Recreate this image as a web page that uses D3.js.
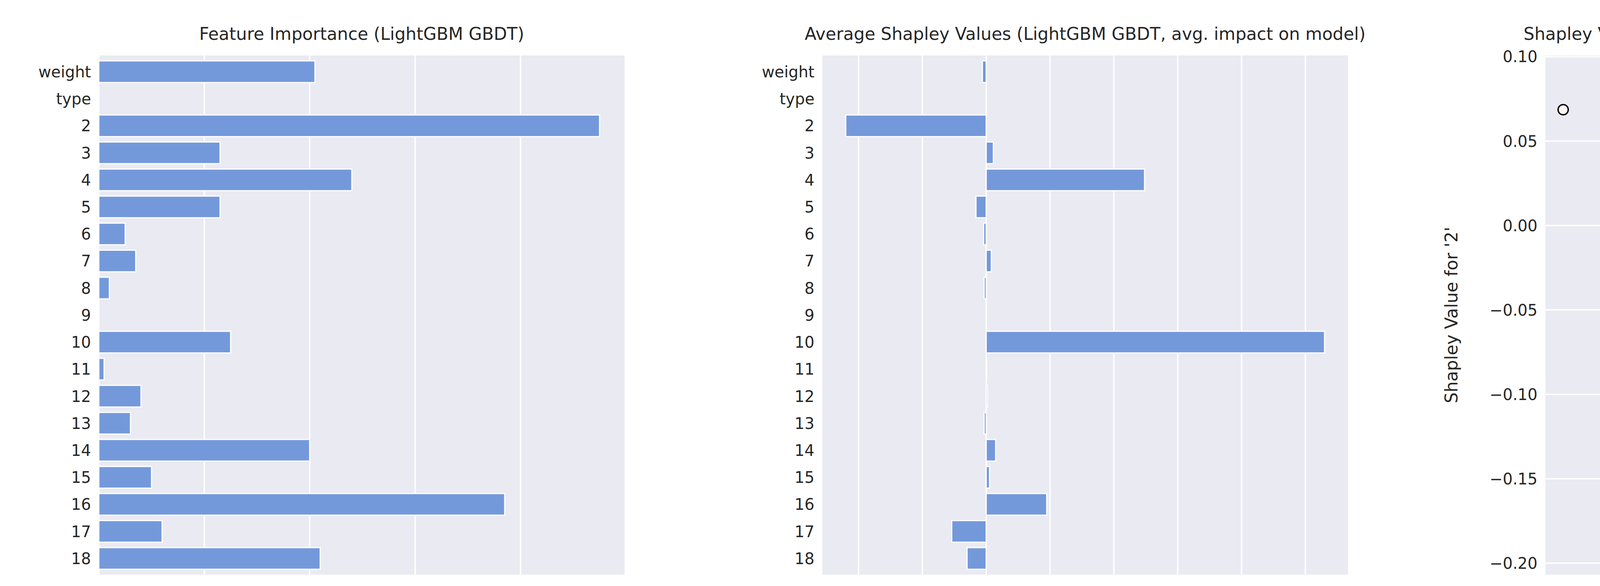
<!DOCTYPE html>
<html><head><meta charset="utf-8">
<script src="https://cdn.jsdelivr.net/npm/d3@7"></script>
<style>body{margin:0;background:#fff}text{font-family:"DejaVu Sans",sans-serif;fill:#262626}</style>
</head><body><svg id="c" width="5400" height="1500"></svg>
<script>
const features=["weight","type","2","3","4","5","6","7","8","9","10","11","12","13","14","15","16","17","18"];
const importance=[41,0,95,23,48,23,5,7,2,0,25,1,8,6,40,10,77,12,42];
const shapMeans=[-0.0015,0,-0.055,0.0028,0.062,-0.004,-0.001,0.002,-0.0008,0,0.1325,0.0002,0.0005,-0.0008,0.0037,0.0013,0.0237,-0.0135,-0.0075];
const scatterX=[-3.65,-2.6,-2.25,-2.1,-1.99,-1.67,-1.535,-1.47,-1.41,-0.467,-0.467,-0.467,-0.467,-0.17,0.33,-0.757,-0.467,-0.457,-0.425,-0.21,-0.05,-0.02,0.027,0.617,0.655,0.72,0.86,0.89,0.94,0.98,1.04,1.08,1.12,1.17,1.2,0.79,0.78,0.78,0.665,0.78];
const scatterY=[0.0686,0.0847,0.078,0.078,0.078,0.078,0.0875,0.078,0.078,-0.0154,-0.0174,-0.0212,-0.050,-0.050,-0.0171,-0.0708,-0.0676,-0.0708,-0.0676,-0.0676,-0.0676,-0.0708,-0.0676,-0.0565,-0.0643,-0.0756,-0.102,-0.102,-0.102,-0.102,-0.102,-0.102,-0.102,-0.102,-0.102,-0.109,-0.114,-0.112,-0.139,-0.194];
const scatterC=[-2.85,-1.8,-2.2,-2.2,-2.3,-2.1,-1.2,-2.2,-2.3,0.3,0.1,0.4,1.9,-0.4,0.4,-0.8,0.2,-0.5,-0.3,-0.6,-0.8,-1.2,-0.5,0.4,0.3,0.2,0.5,0.3,0.4,0.4,0.4,0.4,0.4,0.4,0.4,0.3,0.5,0.2,0.2,0.1];
const impTicks=[0,20,40,60,80];
const shapTicks=[-0.05,-0.025,0,0.025,0.05,0.075,0.1,0.125];
const scX=[-3,-2,-1,0,1], scY=[0.10,0.05,0.00,-0.05,-0.10,-0.15,-0.20], cbTicks=[-2,-1,0,1,2];

const svg=d3.select("#c");
const BG="#eaeaf2", BAR="#7499db", FS=40;
const T0=142,B0=1471;
function frame(x0,x1){svg.append("rect").attr("x",x0).attr("y",T0).attr("width",x1-x0).attr("height",B0-T0).attr("fill",BG);}
function title(t,cx){svg.append("text").attr("x",cx).attr("y",102).attr("text-anchor","middle").attr("font-size",44).text(t);}
const fmtMinus=s=>s.replace("-","\u2212");

function barPanel(x0,x1,vals,dom,ticks,fmt,ttl,xl){
  frame(x0,x1);
  const x=d3.scaleLinear().domain(dom).range([x0,x1]);
  const y=d3.scaleBand().domain(features).range([T0,B0]).padding(0.2);
  const g=svg.append("g");
  ticks.forEach(t=>{g.append("line").attr("x1",x(t)).attr("x2",x(t)).attr("y1",T0).attr("y2",B0).attr("stroke","#fff").attr("stroke-width",3.5);
    g.append("text").attr("x",x(t)).attr("y",B0+72).attr("text-anchor","middle").attr("font-size",FS).text(fmtMinus(fmt(t)));});
  features.forEach((f,i)=>{const v=vals[i];
    g.append("rect").attr("x",Math.min(x(0),x(v))).attr("y",y(f)).attr("width",Math.abs(x(v)-x(0))).attr("height",y.bandwidth()).attr("fill",BAR).attr("stroke","#fff").attr("stroke-width",3);
    g.append("text").attr("x",x0-20).attr("y",y(f)+y.bandwidth()/2).attr("dy","0.36em").attr("text-anchor","end").attr("font-size",FS).text(f);});
  svg.append("text").attr("x",(x0+x1)/2).attr("y",B0+140).attr("text-anchor","middle").attr("font-size",44).text(xl);
  title(ttl,(x0+x1)/2);
}
barPanel(253,1599,importance,[0,99.75],impTicks,d=>String(d),"Feature Importance (LightGBM GBDT)","importance");
barPanel(2105,3451,shapMeans,[-0.0642,0.1417],shapTicks,d3.format(".3f"),"Average Shapley Values (LightGBM GBDT, avg. impact on model)","Shapley values");

const sx0=3956,sx1=5032;
frame(sx0,sx1);
const x=d3.scaleLinear().domain([-3.875,1.42]).range([sx0,sx1]);
const y=d3.scaleLinear().domain([-0.2068,0.1007]).range([B0,T0]);
const cmin=-2.855,cmax=2.06;
const color=d3.scaleSequential(d3.interpolateReds).domain([cmin,cmax]);
scX.forEach(t=>{svg.append("line").attr("x1",x(t)).attr("x2",x(t)).attr("y1",T0).attr("y2",B0).attr("stroke","#fff").attr("stroke-width",3.5);
  svg.append("text").attr("x",x(t)).attr("y",B0+72).attr("text-anchor","middle").attr("font-size",FS).text(fmtMinus(String(t)));});
scY.forEach(t=>{svg.append("line").attr("x1",sx0).attr("x2",sx1).attr("y1",y(t)).attr("y2",y(t)).attr("stroke","#fff").attr("stroke-width",3.5);
  svg.append("text").attr("x",sx0-20).attr("y",y(t)).attr("dy","0.36em").attr("text-anchor","end").attr("font-size",FS).text(fmtMinus(d3.format(".2f")(t)));});
scatterX.forEach((v,i)=>svg.append("circle").attr("cx",x(v)).attr("cy",y(scatterY[i])).attr("r",13).attr("fill",color(scatterC[i])).attr("stroke","#000").attr("stroke-width",3.5));
svg.append("text").attr("x",(sx0+sx1)/2).attr("y",B0+140).attr("text-anchor","middle").attr("font-size",44).text("2");
svg.append("text").attr("transform",`translate(${sx0-225},${(T0+B0)/2}) rotate(-90)`).attr("text-anchor","middle").attr("font-size",44).text("Shapley Value for '2'");
title("Shapley Value vs '2' and '10' (LightGBM GBDT, scaled)",4500);
const cbx=5106,cbw=52;
const defs=svg.append("defs");const lg=defs.append("linearGradient").attr("id","cb").attr("x1",0).attr("y1",1).attr("x2",0).attr("y2",0);
d3.range(0,1.0001,0.05).forEach(o=>lg.append("stop").attr("offset",o).attr("stop-color",d3.interpolateReds(o)));
svg.append("rect").attr("x",cbx).attr("y",T0).attr("width",cbw).attr("height",B0-T0).attr("fill","url(#cb)");
const cy=d3.scaleLinear().domain([cmin,cmax]).range([B0,T0]);
cbTicks.forEach(t=>{svg.append("line").attr("x1",cbx+cbw).attr("x2",cbx+cbw+14).attr("y1",cy(t)).attr("y2",cy(t)).attr("stroke","#262626").attr("stroke-width",3);
  svg.append("text").attr("x",cbx+cbw+24).attr("y",cy(t)).attr("dy","0.36em").attr("font-size",FS).text(fmtMinus(String(t)));});
svg.append("text").attr("transform",`translate(${cbx+cbw+190},${(T0+B0)/2}) rotate(-90)`).attr("text-anchor","middle").attr("font-size",44).text("10");
</script></body></html>
